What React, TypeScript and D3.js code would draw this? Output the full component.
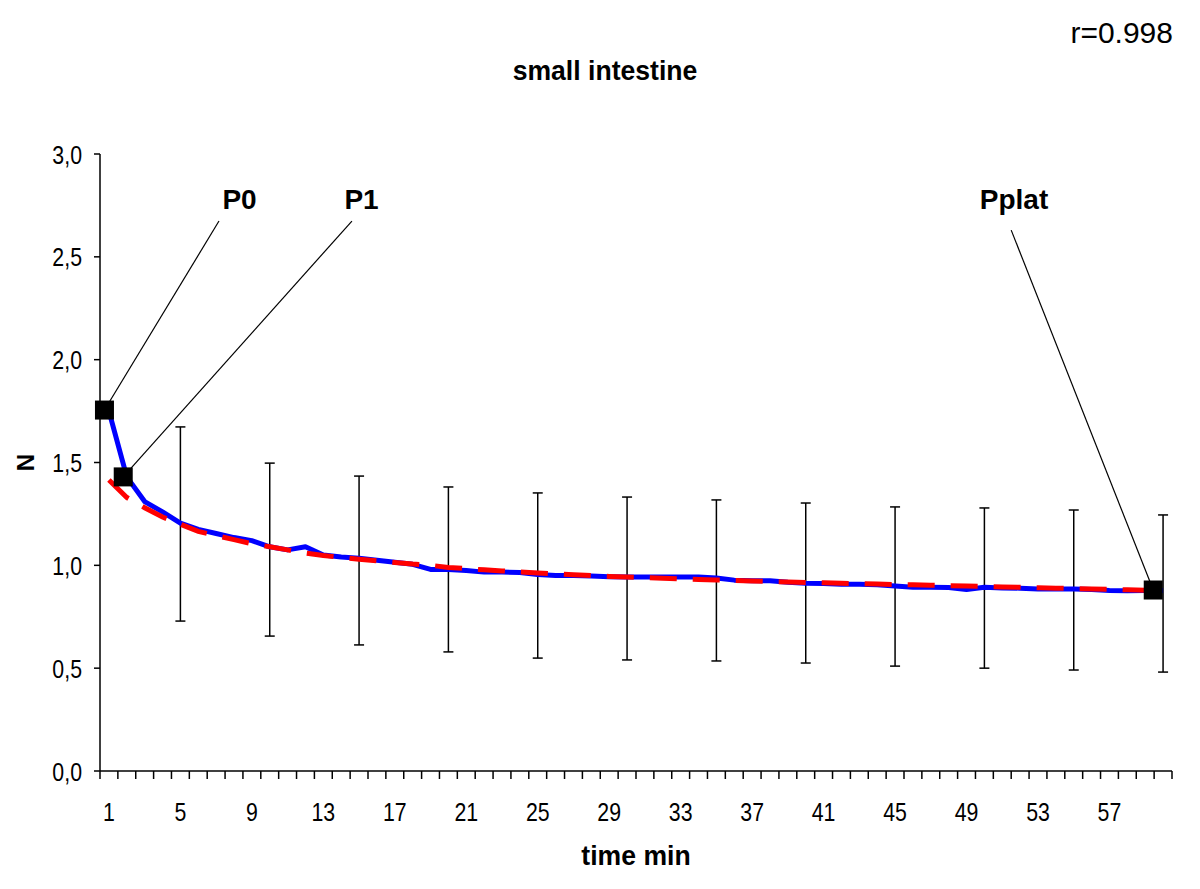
import React from "react";
import * as d3 from "d3";

// ---- data ----
const categories: number[] = d3.range(1, 61);
const xTickLabels: number[] = [1, 5, 9, 13, 17, 21, 25, 29, 33, 37, 41, 45, 49, 53, 57];
const yTicks: number[] = [0, 0.5, 1, 1.5, 2, 2.5, 3];

const measured: number[] = [
  1.75, 1.43, 1.31, 1.26, 1.205, 1.175, 1.155, 1.135, 1.12, 1.09,
  1.075, 1.09, 1.05, 1.04, 1.035, 1.025, 1.015, 1.005, 0.98, 0.98,
  0.975, 0.967, 0.967, 0.965, 0.955, 0.95, 0.95, 0.948, 0.945, 0.943,
  0.943, 0.943, 0.943, 0.943, 0.938, 0.928, 0.925, 0.925, 0.918, 0.913,
  0.912, 0.908, 0.908, 0.906, 0.9, 0.894, 0.894, 0.892, 0.882, 0.893,
  0.89, 0.889, 0.885, 0.885, 0.885, 0.882, 0.878, 0.876, 0.878, 0.878,
];

const fitted: number[] = [
  1.415, 1.33, 1.28, 1.235, 1.2, 1.165, 1.145, 1.125, 1.105, 1.09,
  1.075, 1.06, 1.048, 1.038, 1.03, 1.022, 1.014, 1.006, 1.0, 0.99,
  0.984, 0.978, 0.973, 0.968, 0.963, 0.958, 0.954, 0.95, 0.946, 0.943,
  0.94, 0.937, 0.934, 0.931, 0.929, 0.926, 0.924, 0.921, 0.919, 0.917,
  0.915, 0.913, 0.911, 0.909, 0.907, 0.905, 0.903, 0.901, 0.899, 0.897,
  0.895, 0.893, 0.891, 0.889, 0.887, 0.885, 0.883, 0.881, 0.879, 0.877,
];

const errorAt: number[] = [5, 10, 15, 20, 25, 30, 35, 40, 45, 50, 55, 60];
const errorUpper: number[] = [1.673, 1.497, 1.434, 1.381, 1.352, 1.332, 1.318, 1.303, 1.284, 1.279, 1.269, 1.245];
const errorLower: number[] = [0.729, 0.656, 0.613, 0.579, 0.549, 0.54, 0.535, 0.525, 0.51, 0.5, 0.491, 0.481];

const markerNames: string[] = ["P0", "P1", "Pplat"];
const markerX: number[] = [0.75, 1.8, 59.45];
const markerY: number[] = [1.755, 1.43, 0.88];
const labelX: number[] = [8.31, 15.14, 51.66];
const labelY: number[] = [2.731, 2.731, 2.731];
const leaderX: number[] = [7.16, 14.6, 51.5];
const leaderY: number[] = [2.674, 2.674, 2.63];

const FONT = "'Liberation Sans', Arial, sans-serif";

export default function App() {
  const W = 1200, H = 889;
  const left = 100, right = 1172, top = 154, bottom = 771;
  const x = d3.scaleLinear().domain([0.5, 60.5]).range([left, right]);
  const y = d3.scaleLinear().domain([0, 3]).range([bottom, top]);

  const line = d3.line<number>().x((_, i) => x(categories[i])).y((d) => y(d));
  const boundaries = d3.range(0.5, 61, 1);
  const fmt = (v: number) => v.toFixed(1).replace(".", ",");

  return (
    <svg width={W} height={H} style={{ position: "absolute", left: 0, top: 0, display: "block", background: "#fff" }}
      fontFamily={FONT}>
      <rect width={W} height={H} fill="#fff" />
      {/* r value */}
      <text x={1173} y={43} textAnchor="end" fontSize={30}>r=0.998</text>
      {/* title */}
      <text transform="translate(605,80) scale(0.95,1)" textAnchor="middle" fontSize={28} fontWeight="bold">small intestine</text>

      {/* axes */}
      <line x1={left} x2={left} y1={top} y2={bottom} stroke="#000" strokeWidth={1.5} />
      <line x1={left} x2={right} y1={bottom} y2={bottom} stroke="#000" strokeWidth={1.5} />
      {yTicks.map((t) => (
        <g key={"yt" + t}>
          <line x1={left - 6} x2={left} y1={y(t)} y2={y(t)} stroke="#000" strokeWidth={1.5} />
          <text transform={`translate(82,${y(t) + 9.5}) scale(0.82,1)`} textAnchor="end" fontSize={26}>{fmt(t)}</text>
        </g>
      ))}
      {boundaries.map((b) => (
        <line key={"xt" + b} x1={x(b)} x2={x(b)} y1={bottom} y2={bottom + 8} stroke="#000" strokeWidth={1.5} />
      ))}
      {xTickLabels.map((c) => (
        <text key={"xl" + c} transform={`translate(${x(c)},821) scale(0.82,1)`} textAnchor="middle" fontSize={26}>{c}</text>
      ))}
      <text transform="translate(636,865) scale(0.95,1)" textAnchor="middle" fontSize={28} fontWeight="bold">time min</text>
      <text transform={`translate(34,${y(1.5)}) rotate(-90)`} textAnchor="middle" fontSize={24} fontWeight="bold">N</text>

      {/* error bars */}
      {errorAt.map((c, i) => (
        <g key={"eb" + c} stroke="#000" strokeWidth={1.5}>
          <line x1={x(c)} x2={x(c)} y1={y(errorUpper[i])} y2={y(errorLower[i])} />
          <line x1={x(c) - 5} x2={x(c) + 5} y1={y(errorUpper[i])} y2={y(errorUpper[i])} />
          <line x1={x(c) - 5} x2={x(c) + 5} y1={y(errorLower[i])} y2={y(errorLower[i])} />
        </g>
      ))}

      {/* lines */}
      <path d={line(measured) || ""} fill="none" stroke="#0000ff" strokeWidth={5} strokeLinejoin="round" />
      <path d={line(fitted) || ""} fill="none" stroke="#ff0000" strokeWidth={5} strokeDasharray="27,16" />

      {/* annotations */}
      {markerNames.map((n, i) => (
        <g key={n}>
          <line x1={x(leaderX[i])} y1={y(leaderY[i])} x2={x(markerX[i])} y2={y(markerY[i])} stroke="#000" strokeWidth={1.2} />
          <rect x={x(markerX[i]) - 9.5} y={y(markerY[i]) - 9.5} width={19} height={19} fill="#000" />
          <text x={x(labelX[i])} y={y(labelY[i])} textAnchor="middle" fontSize={28} fontWeight="bold">{n}</text>
        </g>
      ))}
    </svg>
  );
}
